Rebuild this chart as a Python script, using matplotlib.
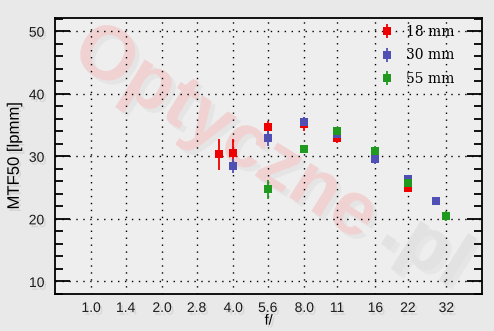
import numpy as np
import matplotlib
matplotlib.use("Agg")
import matplotlib.pyplot as plt
import matplotlib.patheffects as pe
from matplotlib.ticker import MultipleLocator, FixedLocator, NullLocator

# f-number tick labels (equal spacing in half stops)
f_ticks = [1.0, 1.4, 2.0, 2.8, 4.0, 5.6, 8.0, 11, 16, 22, 32]
f_labels = ["1.0", "1.4", "2.0", "2.8", "4.0", "5.6", "8.0", "11", "16", "22", "32"]

# MTF50 measurements per focal length
f_18 = [3.5, 4.0, 5.6, 8.0, 11, 16, 22]
mtf_18 = [30.3, 30.5, 34.7, 35.2, 33.0, 30.0, 24.9]
err_18 = [2.5, 2.3, 1.0, 1.1, 0.8, 0.6, 0.6]

f_30 = [4.0, 5.6, 8.0, 11, 16, 22, 29]
mtf_30 = [28.5, 32.9, 35.5, 33.5, 29.5, 26.3, 22.8]
err_30 = [1.1, 1.2, 0.8, 0.6, 0.7, 0.5, 0.3]

f_55 = [5.6, 8.0, 11, 16, 22, 32]
mtf_55 = [24.7, 31.1, 34.0, 30.8, 25.7, 20.5]
err_55 = [1.5, 0.5, 0.6, 0.8, 0.6, 0.8]

series = [
    ("18 mm", f_18, mtf_18, err_18, "#ee0000"),
    ("30 mm", f_30, mtf_30, err_30, "#5050b4"),
    ("55 mm", f_55, mtf_55, err_55, "#1f9a1f"),
]

shadow = [pe.withSimplePatchShadow(offset=(1.5, -2), shadow_rgbFace="#999999", alpha=0.25)]

fig = plt.figure(figsize=(4.94, 3.31), dpi=100, facecolor="#e9e9e9")
ax = fig.add_axes([0.1123, 0.1118, 0.8634, 0.8338])
ax.patch.set_alpha(0.0)
fig.patches.append(plt.Rectangle((0.1123, 0.1118), 0.8634, 0.8338, transform=fig.transFigure,
                                 facecolor="#eeeeee", edgecolor="none", zorder=-2))

# watermark (behind the axes content)
fig.text(0.455, 0.595, "Optyczne", fontsize=55, fontweight="bold", family="Liberation Sans",
         color="#f1d2d2", rotation=-32, ha="center", va="center", zorder=-1,
         path_effects=[pe.withSimplePatchShadow(offset=(3, -3), shadow_rgbFace="#cccccc", alpha=0.25)])
fig.text(0.86, 0.25, ".pl", fontsize=55, fontweight="bold", family="Liberation Sans",
         color="#e2e2e2", rotation=-32, ha="center", va="center", zorder=-1,
         path_effects=[pe.withSimplePatchShadow(offset=(3, -3), shadow_rgbFace="#d0d0d0", alpha=0.25)])

for name, f, mtf, err, col in series:
    ax.errorbar(f, mtf, yerr=err, fmt="s", color=col, ecolor=col, markersize=5.5,
                markeredgewidth=0, elinewidth=1.3, capsize=0, label=name, zorder=3)

ax.set_xscale("log", base=2)
ax.set_xlim(2 ** -0.5, 2 ** 5.5)
ax.xaxis.set_major_locator(FixedLocator(f_ticks))
ax.xaxis.set_minor_locator(NullLocator())
ax.set_xticklabels(f_labels)
ax.set_ylim(8, 52.1)
ax.yaxis.set_major_locator(MultipleLocator(10))
ax.yaxis.set_minor_locator(MultipleLocator(2))

ax.grid(True, which="major", color="black", linestyle=(0, (1, 4)), linewidth=1.0)
ax.tick_params(axis="x", length=0, pad=5, labelsize=10)
ax.tick_params(axis="y", which="major", direction="in", length=11, width=1.3,
               left=True, right=True, labelsize=10, pad=8)
ax.tick_params(axis="y", which="minor", direction="in", length=5.5, width=1.3,
               left=True, right=True)
for s in ax.spines.values():
    s.set_linewidth(1.3)

for lab in ax.get_xticklabels() + ax.get_yticklabels():
    lab.set_family("Liberation Sans")
    lab.set_color("#1a1a1a")
    lab.set_path_effects(shadow)

ax.set_xlabel("f/", fontsize=10.5, family="Liberation Sans", labelpad=-1, path_effects=shadow)
ax.set_ylabel("MTF50 [lpmm]", fontsize=12, family="Liberation Sans", labelpad=5, path_effects=shadow)

leg = ax.legend(loc="upper right", frameon=False, prop={"family": "DejaVu Serif", "size": 10},
                handlelength=1.0, handletextpad=0.9, labelspacing=0.68,
                bbox_to_anchor=(0.965, 1.02))

fig.savefig("out.png", dpi=100, facecolor=fig.get_facecolor())
